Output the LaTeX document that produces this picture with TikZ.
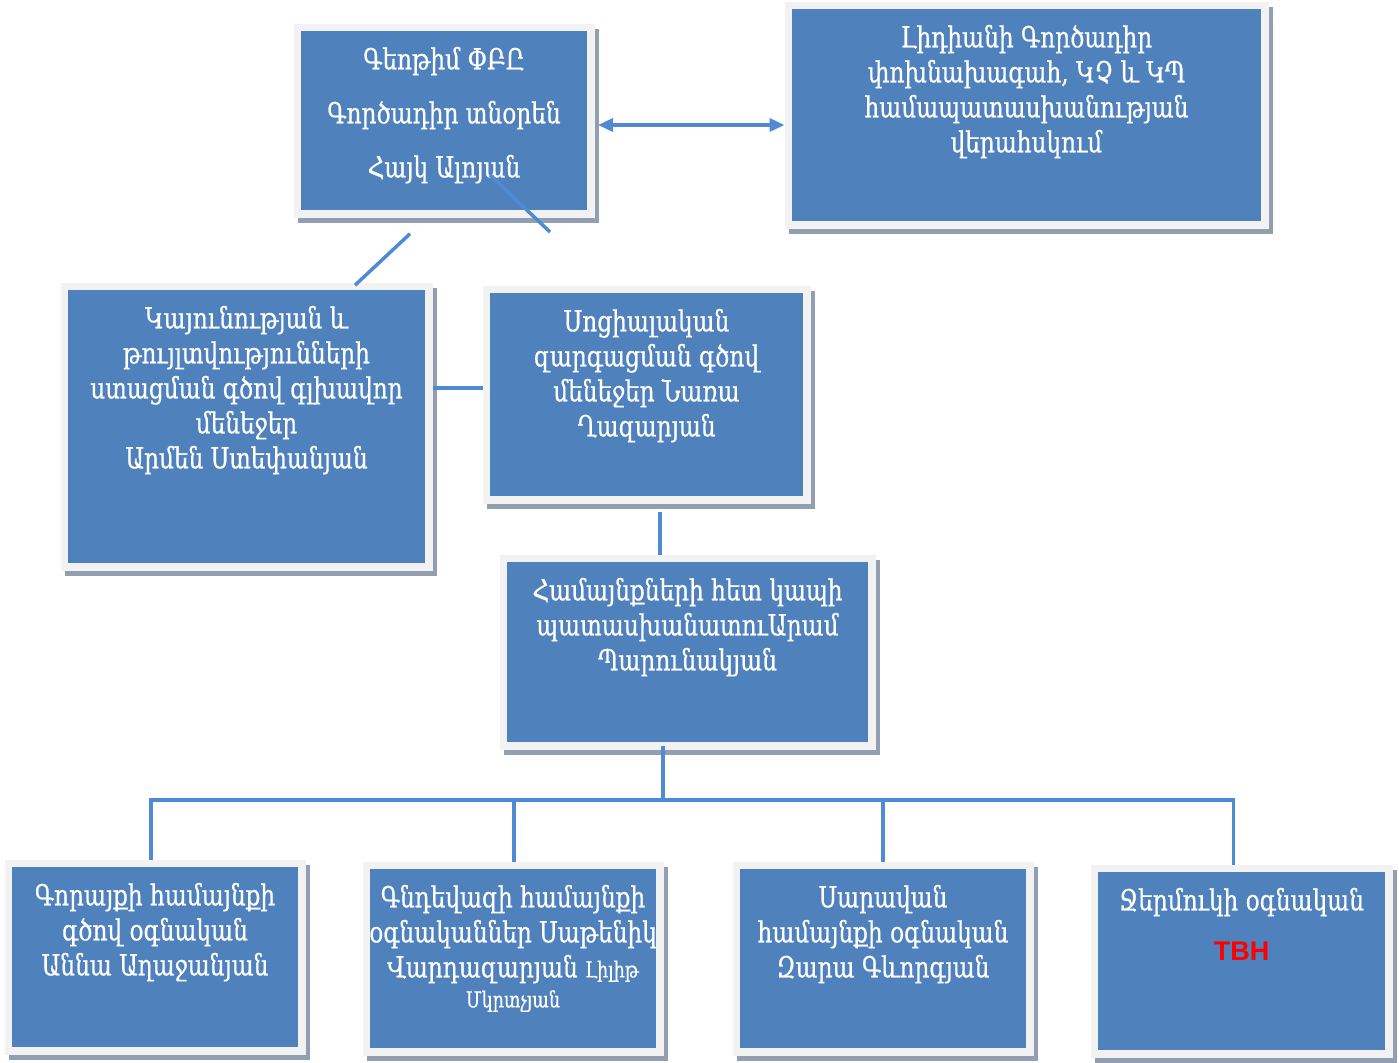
\documentclass[tikz,border=0pt]{standalone}
\usepackage{fontspec}
\setmainfont{DejaVu Serif}[FakeStretch=0.8, FakeBold=0.6]
\newfontfamily\latinsans{Liberation Sans}
\usepackage{tikz}
\usetikzlibrary{shadows,arrows.meta}
\definecolor{boxblue}{RGB}{79,129,189}
\definecolor{framegray}{RGB}{242,242,242}
\definecolor{shadowgray}{RGB}{146,158,178}
\definecolor{linkblue}{RGB}{80,138,212}
\tikzset{
  box/.style={rectangle, fill=boxblue, draw=framegray, line width=3.75pt, inner sep=0pt,
    drop shadow={shadow xshift=2pt, shadow yshift=-2.5pt, fill=shadowgray,
      draw=shadowgray, line width=3.75pt, opacity=1}},
  txt/.style={text=white, align=center, inner sep=0pt, font=\fontsize{14.5}{17.5}\selectfont},
  link/.style={draw=linkblue, line width=1.75pt},
}
\newcommand{\unitbox}[6]{
  % frame
  \node[box, minimum width=#4, minimum height=#5] (#1) at (#2,#3) {};
  % caption
  \node[txt, anchor=north] (#1t) at ([yshift=-11.5pt]#1.north) {#6};
}

\begin{document}
\begin{tikzpicture}[x={(0.5pt,0pt)}, y={(0pt,-0.5pt)},
  >={Triangle[length=7.5pt,width=6.5pt]}]
\useasboundingbox (0,0) rectangle (1399,1062);

\unitbox{dir}{444}{120.5}{146.75pt}{93.25pt}
  {Գեոթիմ ՓԲԸ\\[9.5pt]Գործադիր տնօրեն\\[9.5pt]Հայկ Ալոյան}
\unitbox{vice}{1026.5}{115}{238.25pt}{109.75pt}
  {Լիդիանի Գործադիր\\փոխնախագահ, ԿՉ և ԿՊ\\համապատասխանության\\վերահսկում}
\unitbox{stab}{246.5}{426.5}{182.25pt}{140.25pt}
  {Կայունության և\\թույլտվությունների\\ստացման գծով գլխավոր\\մենեջեր\\ Արմեն Ստեփանյան}
\unitbox{soc}{646.5}{394.5}{160.25pt}{105.25pt}
  {Սոցիալական\\զարգացման գծով\\մենեջեր Նառա\\Ղազարյան}
\unitbox{comm}{687.5}{652}{184.25pt}{93.75pt}
  {Համայնքների հետ կապի\\պատասխանատուԱրամ\\Պարունակյան}

% community assistants
\unitbox{gor}{155}{957}{146.75pt}{93.75pt}
  {Գորայքի համայնքի\\գծով օգնական\\Աննա Աղաջանյան}
\unitbox{gnd}{513}{958.5}{146.75pt}{93.25pt}
  {Գնդեվազի համայնքի\\օգնականներ Սաթենիկ\\Վարդազարյան {\fontsize{11}{13}\selectfont Լիլիթ}\\[-2.5pt]
   {\fontsize{11}{13}\selectfont Մկրտչյան}}
\unitbox{sar}{883}{958.5}{146.75pt}{93.25pt}
  {Սարավան\\համայնքի օգնական\\Զարա Գևորգյան}
\unitbox{jer}{1241.5}{961}{147.25pt}{92.75pt}
  {Ջերմուկի օգնական\\[7.5pt]{\latinsans\bfseries\fontsize{13.5}{15}\selectfont\color{red}TBH}}

% links
\coordinate (arr) at (598,125);
\draw[link, <->] (arr) -- (vice.west |- arr);
\draw[link] ([shift={(-34,16.25)}]dir.south) -- ([shift={(108.5,2.75)}]stab.north);
\coordinate (dirtail) at (550,232);
\draw[link] ([shift={(46,54.5)}]dir.center) -- (dirtail);
\coordinate (mid) at (0,388);
\draw[link] (stab.east |- mid) -- (soc.west |- mid);
\coordinate (socdrop) at (660,0);
\draw[link] ([yshift=-4pt]soc.south -| socdrop) -- (comm.north -| socdrop);
\coordinate (bus) at (663,800);
\draw[link] ([yshift=2pt]comm.south -| bus) -- (bus);
\foreach \b/\dx in {gor/-4,gnd/1,sar/0,jer/-8}
  \draw[link] (bus) -| ([xshift=\dx*0.5pt]\b.north);
\end{tikzpicture}
\end{document}
